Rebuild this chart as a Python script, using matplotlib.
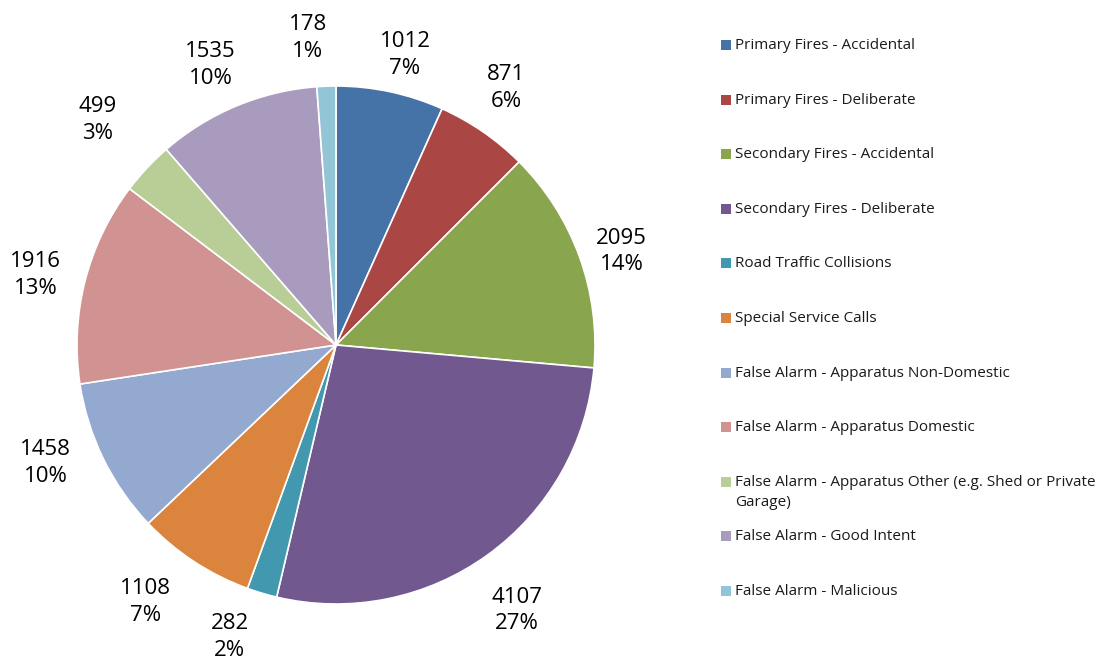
import matplotlib.pyplot as plt
import matplotlib.patches as mpatches
import numpy as np

plt.rcParams['font.family'] = ['Open Sans', 'DejaVu Sans']

categories = ['Primary Fires - Accidental', 'Primary Fires - Deliberate',
              'Secondary Fires - Accidental', 'Secondary Fires - Deliberate',
              'Road Traffic Collisions', 'Special Service Calls',
              'False Alarm - Apparatus Non-Domestic', 'False Alarm - Apparatus Domestic',
              'False Alarm - Apparatus Other (e.g. Shed or Private\nGarage)',
              'False Alarm - Good Intent', 'False Alarm - Malicious']
values = [1012, 871, 2095, 4107, 282, 1108, 1458, 1916, 499, 1535, 178]
colors = ['#4572A7', '#AA4643', '#89A54E', '#71588F', '#4198AF', '#DB843D',
          '#93A9CF', '#D19392', '#B9CD96', '#A99BBD', '#92C5D6']

# label placement tweaks (Excel "best fit"): radius factor and angle shift in degrees
lab_dist = [1.15, 1.19, 1.16, 1.24, 1.20, 1.235, 1.21, 1.19, 1.265, 1.185, 1.19]
lab_dang = [-1.3, 1.1, -1.8, -1.6, -3.4, -3.3, -4.0, 1.1, -0.3, 1.5, 3.1]

W, H = 1099, 662
fig = plt.figure(figsize=(W / 100, H / 100), dpi=100)

# pie axes: centre (336, 345) px, radius 259 px
cx, cy, r = 336, 345, 259
ax = fig.add_axes([(cx - r) / W, (H - cy - r) / H, 2 * r / W, 2 * r / H])
wedges, _ = ax.pie(values, colors=colors, startangle=90, counterclock=False,
                   radius=1, wedgeprops=dict(edgecolor='white', linewidth=1.2))
ax.set_xlim(-1, 1)
ax.set_ylim(-1, 1)
ax.set_aspect('equal')
ax.axis('off')

total = sum(values)
for w, v, d, da in zip(wedges, values, lab_dist, lab_dang):
    ang = np.deg2rad((w.theta1 + w.theta2) / 2 + da)
    ax.text(d * np.cos(ang), d * np.sin(ang), '%d\n%d%%' % (v, round(100 * v / total)),
            ha='center', va='center', fontsize=16, color='black',
            linespacing=1.35, clip_on=False)

# legend drawn by hand to match the Excel layout
y0, step = 45, 54.6
for i, (lab, c) in enumerate(zip(categories, colors)):
    yc = y0 + i * step
    fig.patches.append(mpatches.Rectangle((721 / W, (H - yc - 5) / H), 10 / W, 10 / H,
                                          transform=fig.transFigure, facecolor=c,
                                          edgecolor='none'))
    fig.text(735 / W, (H - yc + 7) / H, lab, ha='left', va='top', fontsize=11,
             color='#1a1a1a', linespacing=1.5)

plt.savefig('out.png', dpi=100)
